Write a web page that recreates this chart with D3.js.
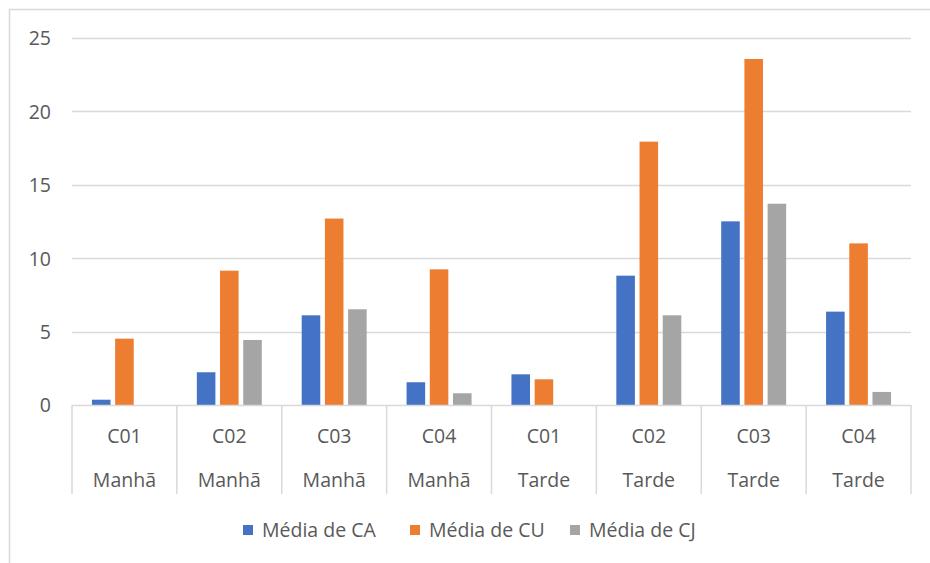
<!DOCTYPE html>
<html><head><meta charset="utf-8">
<script src="https://cdn.jsdelivr.net/npm/d3@7"></script>
<style>body{margin:0;background:#fff;}svg{display:block;font-family:"Open Sans","Noto Sans",sans-serif;}</style>
</head><body>
<svg id="c" width="930" height="563"></svg>
<script>
const codes = ["C01","C02","C03","C04","C01","C02","C03","C04"];
const periods = ["Manhã","Manhã","Manhã","Manhã","Tarde","Tarde","Tarde","Tarde"];
const seriesNames = ["Média de CA","Média de CU","Média de CJ"];
const seriesColors = ["#4472C4","#ED7D31","#A5A5A5"];
const mediaCA = [0.36, 2.23, 6.11, 1.55, 2.09, 8.81, 12.51, 6.36];
const mediaCU = [4.52, 9.15, 12.70, 9.24, 1.75, 17.94, 23.57, 11.01];
const mediaCJ = [0, 4.43, 6.52, 0.80, 0, 6.11, 13.71, 0.89];
const yTicks = [0,5,10,15,20,25];

const series = [mediaCA, mediaCU, mediaCJ];
const svg = d3.select("#c");
const L = 72, R = 911, T = 38, B = 405;
const FS = "19.5px";
const idx = d3.range(codes.length);
const x = d3.scaleBand().domain(idx).range([L,R]).paddingInner(0).paddingOuter(0);
const y = d3.scaleLinear().domain([0,25]).range([B,T]);
const xs = d3.scaleBand().domain([0,1,2]).range([0,x.bandwidth()]).paddingInner(0.2).paddingOuter(0.86);

// outer frame (top and left)
svg.append("path").attr("d","M9.5,563 L9.5,9.5 L930,9.5").attr("fill","none").attr("stroke","#D9D9D9").attr("stroke-width",1.5);

// grid
svg.append("g").selectAll("line").data(yTicks.filter(d=>d>0)).join("line")
  .attr("x1",L).attr("x2",R).attr("y1",d=>Math.round(y(d))+0.5).attr("y2",d=>Math.round(y(d))+0.5)
  .attr("stroke","#D9D9D9").attr("stroke-width",1.5);

// y labels
const yAxis = d3.axisLeft(y).tickValues(yTicks).tickSize(0).tickPadding(0);
const ya = svg.append("g").attr("transform",`translate(${L-21},0)`).call(yAxis);
ya.select(".domain").remove();
ya.selectAll("text").attr("fill","#595959").attr("font-size",FS).attr("font-family","'Open Sans',sans-serif").attr("dy","0.35em").attr("text-anchor","end");

// bars
const g = svg.append("g");
series.forEach((vals,si)=>{
  g.append("g").selectAll("rect").data(idx).join("rect")
    .attr("x",i=>x(i)+xs(si)).attr("width",xs.bandwidth())
    .attr("y",i=>y(vals[i])).attr("height",i=>B-y(vals[i]))
    .attr("fill",seriesColors[si]);
});

// x axis line and category dividers
svg.append("line").attr("x1",L).attr("x2",R).attr("y1",B+0.5).attr("y2",B+0.5).attr("stroke","#D9D9D9").attr("stroke-width",1.5);
svg.append("g").selectAll("line").data(d3.range(codes.length+1)).join("line")
  .attr("x1",i=>i<codes.length?x(i):R).attr("x2",i=>i<codes.length?x(i):R)
  .attr("y1",B).attr("y2",494).attr("stroke","#D9D9D9").attr("stroke-width",1.5);

// x labels
const xl = svg.append("g");
xl.selectAll("text.c").data(idx).join("text").attr("class","c")
  .attr("x",i=>x(i)+x.bandwidth()/2).attr("y",436).attr("dy","0.35em")
  .attr("text-anchor","middle").attr("fill","#595959").attr("font-size",FS).text(i=>codes[i]);
xl.selectAll("text.p").data(idx).join("text").attr("class","p")
  .attr("x",i=>x(i)+x.bandwidth()/2).attr("y",480).attr("dy","0.35em")
  .attr("text-anchor","middle").attr("fill","#595959").attr("font-size",FS).text(i=>periods[i]);

// legend
const legX = [243, 410, 570];
const lg = svg.append("g");
seriesNames.forEach((n,i)=>{
  lg.append("rect").attr("x",legX[i]).attr("y",525).attr("width",10).attr("height",10).attr("fill",seriesColors[i]);
  lg.append("text").attr("x",legX[i]+19).attr("y",530).attr("dy","0.35em").attr("fill","#595959").attr("font-size",FS).text(n);
});
</script>
</body></html>
